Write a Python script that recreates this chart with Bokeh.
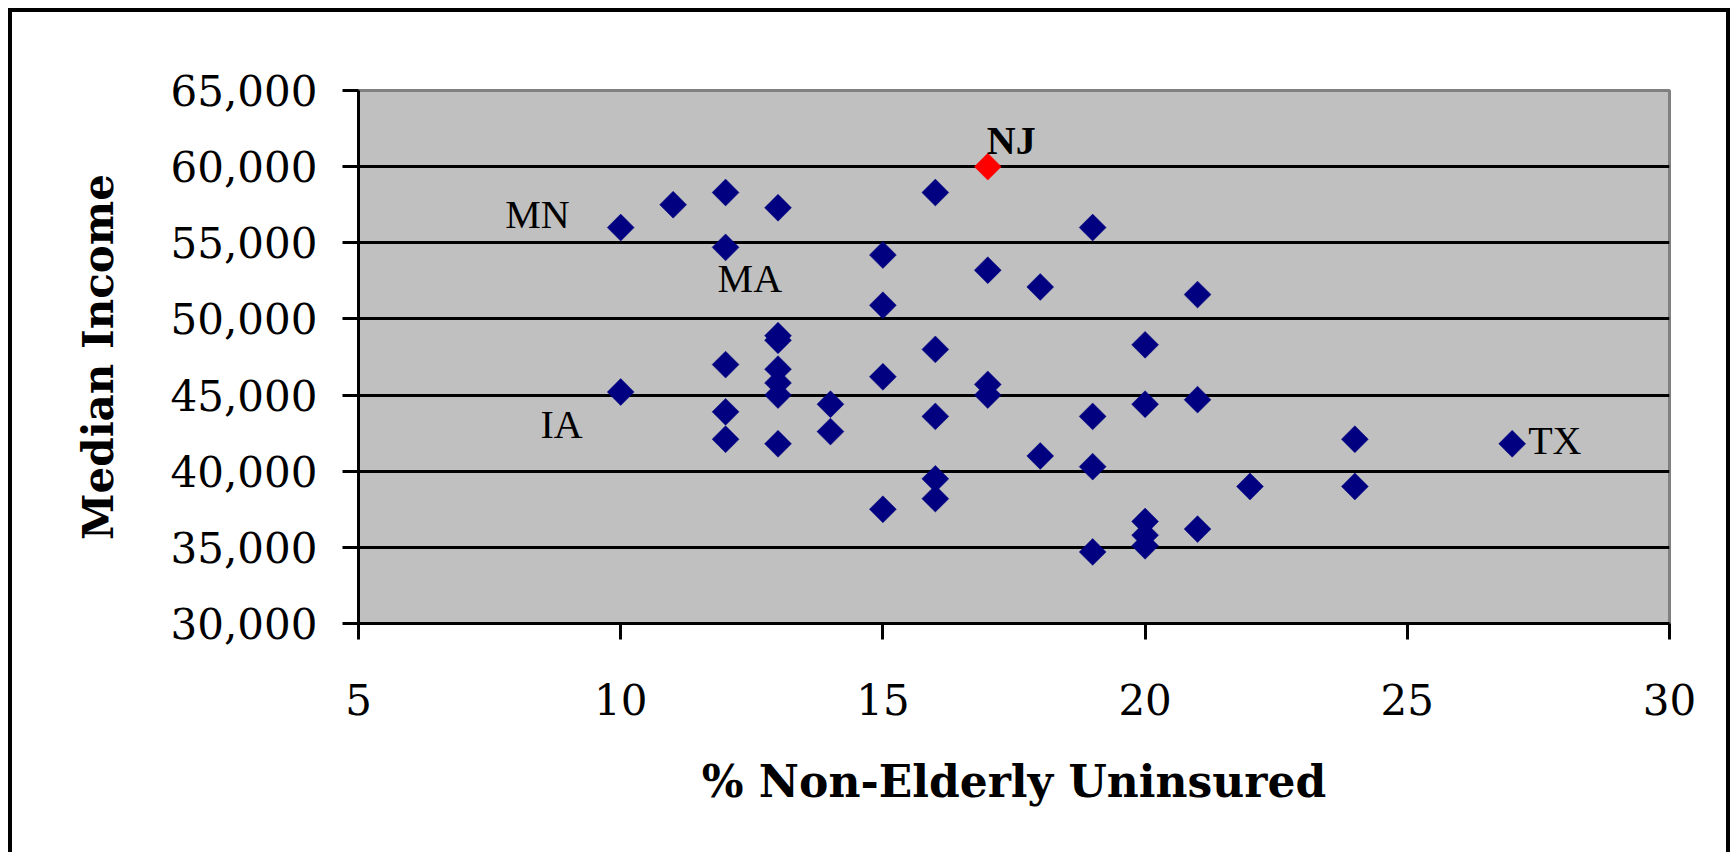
from bokeh.plotting import figure
from bokeh.models import Range1d, FixedTicker, NumeralTickFormatter, ColumnDataSource
from bokeh.core.properties import value
from bokeh.embed import file_html
from bokeh.resources import INLINE
import numpy as np

# ---- data ----
uninsured = [10, 11, 12, 13, 16, 19, 12, 15, 17, 18, 15, 21, 13, 13, 16, 20,
             12, 13, 15, 17, 13, 10, 13, 17, 12, 14, 16, 19, 20, 21, 12, 13,
             14, 24, 27, 18, 19, 16, 22, 24, 16, 15, 20, 21, 20, 20, 19]
income = [56000, 57500, 58300, 57300, 58300, 56000, 54700, 54200, 53200, 52100,
          50900, 51600, 48900, 48600, 48000, 48300, 47000, 46700, 46200, 45700,
          45800, 45200, 45000, 45000, 43900, 44400, 43600, 43600, 44400, 44700,
          42100, 41800, 42600, 42100, 41800, 41000, 40300, 39500, 39000, 39000,
          38200, 37500, 36700, 36200, 35800, 35100, 34700]
state = ["MN", "", "", "", "", "", "MA", "", "", "", "", "", "", "", "", "",
         "", "", "", "", "", "IA", "", "", "", "", "", "", "", "", "", "",
         "", "", "TX", "", "", "", "", "", "", "", "", "", "", "", ""]

nj_uninsured = [17]
nj_income = [60000]
nj_state = ["NJ"]

x_ticks = [5, 10, 15, 20, 25, 30]
y_ticks = [30000, 35000, 40000, 45000, 50000, 55000, 60000, 65000]
grid_ticks = [35000, 40000, 45000, 50000, 55000, 60000]

# label placement (pixel offsets from the labelled point)
label_style = {
    "MN": dict(align="right", dx=-51, dy=-13),
    "MA": dict(align="left", dx=-8, dy=31),
    "IA": dict(align="right", dx=-38, dy=32),
    "TX": dict(align="left", dx=16, dy=-3),
}

W, H = 1714, 840
p = figure(width=W, height=H, output_backend="svg", toolbar_location=None,
           x_range=Range1d(5, 30), y_range=Range1d(30000, 65000),
           min_border_left=346, min_border_right=65,
           min_border_top=78, min_border_bottom=233)
p.styles = {"margin-left": "8px", "margin-top": "8px",
            "box-sizing": "content-box",
            "border-top": "4px solid black", "border-left": "4px solid black",
            "border-right": "4px solid black"}

p.background_fill_color = "#C0C0C0"
p.border_fill_color = "white"
p.outline_line_color = "#808080"
p.outline_line_width = 3

p.xgrid.visible = False
p.ygrid.ticker = FixedTicker(ticks=grid_ticks)
p.ygrid.grid_line_color = "black"
p.ygrid.grid_line_width = 3

for ax in (p.xaxis[0], p.yaxis[0]):
    ax.axis_line_color = "black"
    ax.axis_line_width = 3
    ax.major_tick_line_color = "black"
    ax.major_tick_line_width = 3
    ax.major_tick_out = 16
    ax.major_tick_in = 0
    ax.minor_tick_line_color = None
    ax.major_label_text_font = "DejaVu Serif"
    ax.major_label_text_font_size = "42px"
    ax.major_label_text_color = "black"
    ax.axis_label_text_font = "DejaVu Serif"
    ax.axis_label_text_font_style = "bold"
    ax.axis_label_text_color = "black"

p.xaxis.ticker = FixedTicker(ticks=x_ticks)
p.yaxis.ticker = FixedTicker(ticks=y_ticks)
p.yaxis.formatter = NumeralTickFormatter(format="0,0")
p.xaxis.major_label_standoff = 44
p.yaxis.major_label_standoff = 25
p.xaxis.axis_label = "% Non-Elderly Uninsured"
p.yaxis.axis_label = "Median Income"
p.xaxis.axis_label_text_font_size = "44px"
p.yaxis.axis_label_text_font_size = "42px"
p.xaxis.axis_label_standoff = 38
p.yaxis.axis_label_standoff = 45

src = ColumnDataSource(dict(x=uninsured, y=income))
p.scatter("x", "y", source=src, marker="square", angle=np.pi / 4, size=19,
          fill_color="#000080", line_color="#000080", line_width=0.5)
p.scatter(nj_uninsured, nj_income, marker="square", angle=np.pi / 4, size=19,
          fill_color="#FF0000", line_color="#FF0000", line_width=0.5)

for name, st in label_style.items():
    i = state.index(name)
    p.text([uninsured[i]], [income[i]], text=[name], text_align=st["align"],
           text_baseline="middle", x_offset=st["dx"], y_offset=st["dy"],
           text_font=value("Liberation Serif"), text_font_size="40px",
           text_color="black")

p.text(nj_uninsured, nj_income, text=nj_state, text_align="left",
       text_baseline="middle", x_offset=-1, y_offset=-26,
       text_font=value("Liberation Serif"), text_font_style="bold",
       text_font_size="40px", text_color="black")

open("out.html", "w").write(file_html(p, INLINE))
